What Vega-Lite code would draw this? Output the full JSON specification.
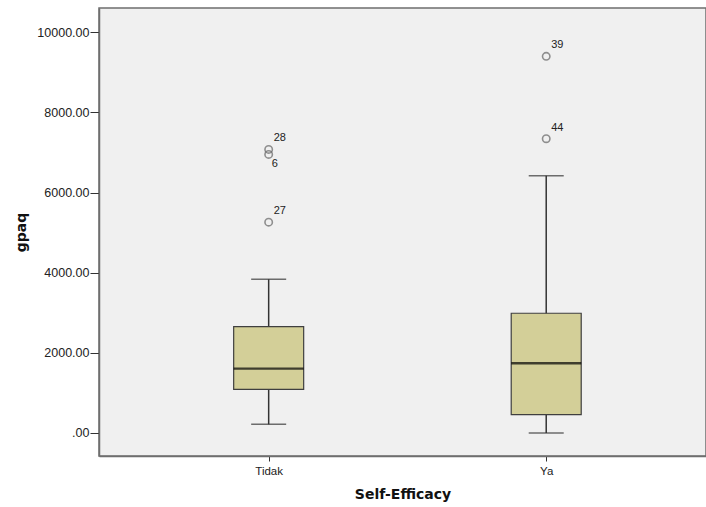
{
  "$schema": "https://vega.github.io/schema/vega-lite/v6.json",
  "width": 706,
  "height": 507,
  "autosize": {"type": "fit", "contains": "padding"},
  "padding": {"left": 14, "top": 8, "right": 0, "bottom": 5},
  "background": "#ffffff",
  "config": {
    "font": "Liberation Sans",
    "view": {"fill": "#f0f0f0", "stroke": "#6e6e6e", "strokeWidth": 1.5},
    "axis": {
      "grid": false,
      "domainColor": "#6e6e6e",
      "domainWidth": 1.5,
      "tickColor": "#333333",
      "tickSize": 6,
      "labelFont": "Liberation Sans",
      "labelFontSize": 11,
      "labelColor": "#222222",
      "titleFont": "DejaVu Sans",
      "titleFontSize": 14,
      "titleFontWeight": "bold",
      "titleColor": "#111111"
    }
  },
  "datasets": {
    "stats": [
      {"group": "Tidak", "low": 215, "q1": 1089, "median": 1606, "q3": 2655, "high": 3837},
      {"group": "Ya", "low": 0, "q1": 457, "median": 1739, "q3": 2988, "high": 6420}
    ],
    "outliers": [
      {"group": "Tidak", "value": 7077, "id": "28"},
      {"group": "Tidak", "value": 6952, "id": "6"},
      {"group": "Tidak", "value": 5261, "id": "27"},
      {"group": "Ya", "value": 9400, "id": "39"},
      {"group": "Ya", "value": 7345, "id": "44"}
    ]
  },
  "layer": [
    {
      "data": {"name": "stats"},
      "mark": {"type": "rule", "color": "#333333", "strokeWidth": 1.5},
      "encoding": {
        "x": {
          "field": "group", "type": "nominal",
          "scale": {"type": "point", "domain": ["Tidak", "Ya"], "padding": 0.5935, "align": 0.515},
          "axis": {"title": "Self-Efficacy", "labelAngle": 0, "tickSize": 5, "titlePadding": 11, "labelPadding": 4, "labelFontSize": 11.5}
        },
        "y": {
          "field": "low", "type": "quantitative",
          "scale": {"domain": [-575, 10607], "nice": false, "zero": false},
          "axis": {
            "title": "gpaq",
            "values": [0, 2000, 4000, 6000, 8000, 10000],
            "labelExpr": "datum.value == 0 ? '.00' : format(datum.value, '.2f')",
            "titlePadding": 8,
            "labelPadding": 1,
            "tickSize": 9,
            "labelFontSize": 12.5
          }
        },
        "y2": {"field": "high"}
      }
    },
    {
      "data": {"name": "stats"},
      "mark": {"type": "tick", "color": "#333333", "thickness": 1.5, "size": 35},
      "encoding": {
        "x": {"field": "group", "type": "nominal"},
        "y": {"field": "low", "type": "quantitative"}
      }
    },
    {
      "data": {"name": "stats"},
      "mark": {"type": "tick", "color": "#333333", "thickness": 1.5, "size": 35},
      "encoding": {
        "x": {"field": "group", "type": "nominal"},
        "y": {"field": "high", "type": "quantitative"}
      }
    },
    {
      "data": {"name": "stats"},
      "mark": {"type": "bar", "size": 70, "fill": "#d3cf98", "stroke": "#3f3f3f", "strokeWidth": 1.2},
      "encoding": {
        "x": {"field": "group", "type": "nominal"},
        "y": {"field": "q1", "type": "quantitative"},
        "y2": {"field": "q3"}
      }
    },
    {
      "data": {"name": "stats"},
      "mark": {"type": "tick", "color": "#000000", "thickness": 2.4, "size": 70},
      "encoding": {
        "x": {"field": "group", "type": "nominal"},
        "y": {"field": "median", "type": "quantitative"}
      }
    },
    {
      "data": {"name": "outliers"},
      "mark": {"type": "point", "shape": "circle", "filled": false, "size": 55, "stroke": "#666666", "strokeWidth": 1.6},
      "encoding": {
        "x": {"field": "group", "type": "nominal"},
        "y": {"field": "value", "type": "quantitative"}
      }
    },
    {
      "data": {"name": "outliers"},
      "transform": [{"filter": "datum.id != '6'"}],
      "mark": {"type": "text", "align": "left", "baseline": "middle", "dx": 5, "dy": -11, "fontSize": 11, "color": "#222222"},
      "encoding": {
        "x": {"field": "group", "type": "nominal"},
        "y": {"field": "value", "type": "quantitative"},
        "text": {"field": "id"}
      }
    },
    {
      "data": {"name": "outliers"},
      "transform": [{"filter": "datum.id == '6'"}],
      "mark": {"type": "text", "align": "left", "baseline": "middle", "dx": 3, "dy": 10, "fontSize": 11, "color": "#222222"},
      "encoding": {
        "x": {"field": "group", "type": "nominal"},
        "y": {"field": "value", "type": "quantitative"},
        "text": {"field": "id"}
      }
    }
  ]
}
